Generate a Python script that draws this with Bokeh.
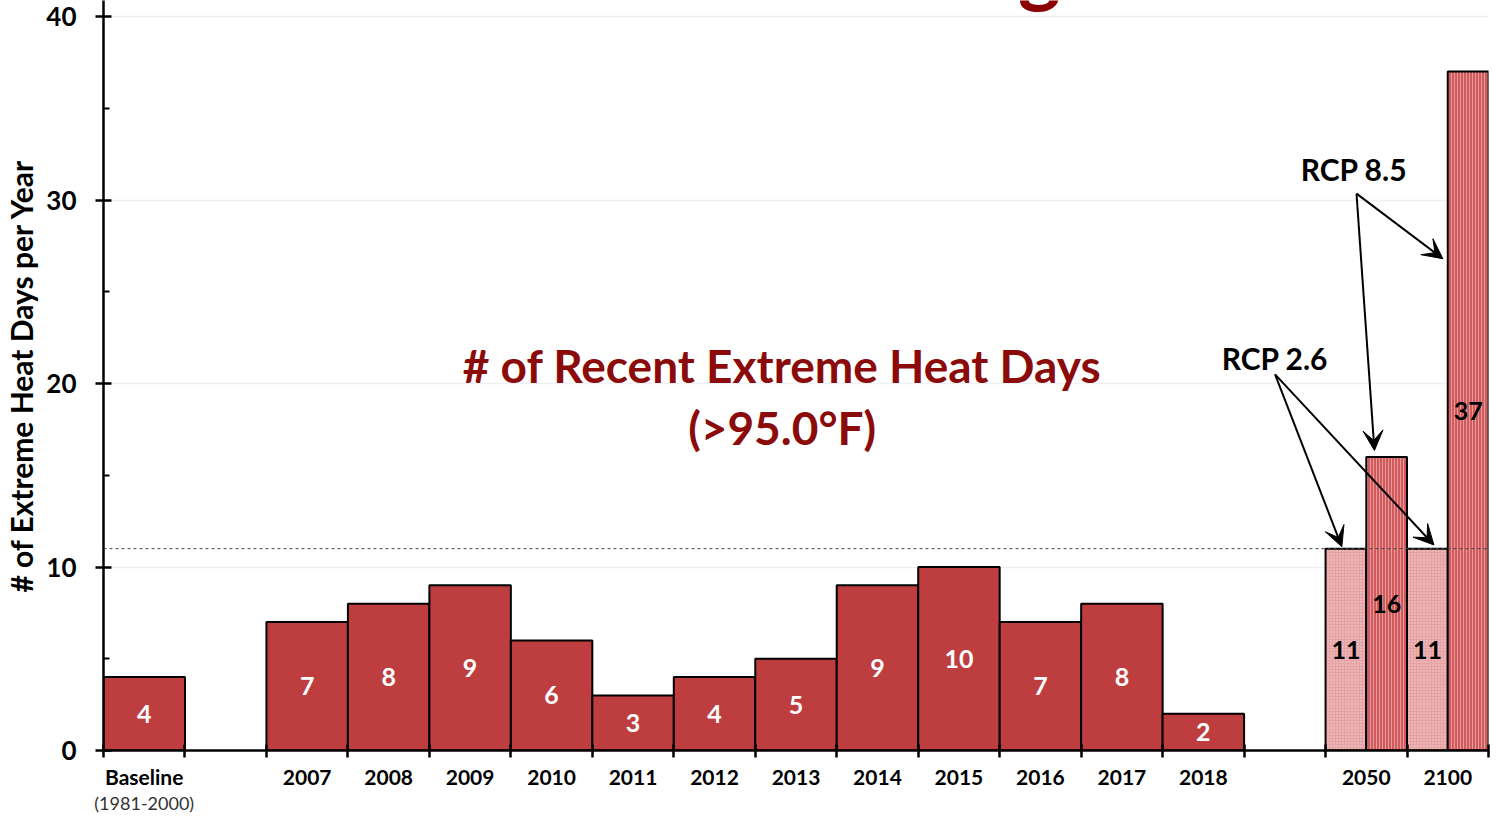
from bokeh.plotting import figure
from bokeh.models import (ColumnDataSource, Range1d, FixedTicker, Span, Arrow,
                          VeeHead, Label, LinearAxis)
from bokeh.core.properties import value
from bokeh.embed import file_html
from bokeh.resources import INLINE

# ---------------- data ----------------
hist_labels = ["Baseline", "2007", "2008", "2009", "2010", "2011", "2012",
               "2013", "2014", "2015", "2016", "2017", "2018"]
hist_values = [4, 7, 8, 9, 6, 3, 4, 5, 9, 10, 7, 8, 2]
proj_labels = ["2050", "2100"]
rcp26_values = [11, 11]
rcp85_values = [16, 37]
baseline_years = "(1981-2000)"
title_text = "Extreme Heat in Long Beach"
inset_line1 = "# of Recent Extreme Heat Days"
inset_line2 = "(>95.0°F)"
y_label = "# of Extreme Heat Days per Year"
y_ticks = [0, 10, 20, 30, 40]

# slot layout: baseline, gap, 12 years, gap, 2 projection slots
hist_slots = [0] + list(range(2, 14))
proj_slots = [15, 16]
n_slots = 17

FONT = "Lato"
DARK_RED = "#8B0A0A"

H = 820
FRAME_BOTTOM = 750           # canvas y of value 0
PX_PER_UNIT = (FRAME_BOTTOM - 16) / 40.0
Y_TOP = 40 + 16 / PX_PER_UNIT  # frame reaches the top of the canvas

p = figure(width=1491, height=H, output_backend="svg", toolbar_location=None,
           x_range=Range1d(0, n_slots), y_range=Range1d(0, Y_TOP),
           min_border_left=99, min_border_right=3, min_border_top=0,
           min_border_bottom=H - FRAME_BOTTOM)
p.outline_line_color = None
p.background_fill_color = "white"
p.border_fill_color = "white"

# historical bars
hsrc = ColumnDataSource(dict(
    x=[s + 0.5 for s in hist_slots], top=hist_values,
    ly=[v / 2 for v in hist_values], txt=[str(v) for v in hist_values]))
p.vbar(x="x", top="top", width=1.0, bottom=0, source=hsrc,
       fill_color="#BE3E40", line_color="black", line_width=2)

# projections
s26 = ColumnDataSource(dict(
    x=[s + 0.25 for s in proj_slots], top=rcp26_values,
    ly=[v / 2 for v in rcp26_values], txt=[str(v) for v in rcp26_values]))
s85 = ColumnDataSource(dict(
    x=[s + 0.75 for s in proj_slots], top=rcp85_values,
    ly=[v / 2 for v in rcp85_values], txt=[str(v) for v in rcp85_values]))
p.vbar(x="x", top="top", width=0.5, bottom=0, source=s26,
       fill_color="#E7A2A4", line_color="black", line_width=2,
       hatch_pattern="dot", hatch_color="white", hatch_alpha=0.55,
       hatch_scale=3, hatch_weight=1)
p.vbar(x="x", top="top", width=0.5, bottom=0, source=s85,
       fill_color="#D15A5D", line_color="black", line_width=2,
       hatch_pattern="vertical_line", hatch_color="#F4C4C5", hatch_alpha=0.6,
       hatch_scale=3, hatch_weight=1)

# value labels
p.text(x="x", y="ly", text="txt", source=hsrc, text_color="white",
       text_font=value(FONT), text_font_style="bold", text_font_size="25px",
       text_align="center", text_baseline="middle")
for src in (s26, s85):
    p.text(x="x", y="ly", text="txt", source=src, text_color="black",
           text_font=value(FONT), text_font_style="bold", text_font_size="25px",
           text_align="center", text_baseline="middle")

# dashed reference line at RCP 2.6 level
p.add_layout(Span(location=rcp26_values[0], dimension="width",
                  line_color="#444444", line_width=1, line_dash="3 3"))

# inset annotation
p.text(x=[8.33, 8.33], y=[21.0, 17.6], text=[inset_line1, inset_line2],
       text_color=DARK_RED, text_font=value(FONT), text_font_style="bold",
       text_font_size="46px", text_align="center", text_baseline="middle")

# RCP labels
p.text(x=[15.35, 14.38], y=[31.7, 21.4], text=["RCP 8.5", "RCP 2.6"],
       text_color="black", text_font=value(FONT), text_font_style="bold",
       text_font_size="30px", text_align="center", text_baseline="middle")

# arrows derived from bar positions / values
def arrow(x0, y0, x1, y1):
    p.add_layout(Arrow(end=VeeHead(size=20, fill_color="black", line_color="black",
                                   line_width=1),
                       x_start=x0, y_start=y0, x_end=x1, y_end=y1,
                       line_color="black", line_width=2))

o85 = (15.38, 30.35)
arrow(*o85, proj_slots[0] + 0.6, rcp85_values[0] + 0.35)
arrow(*o85, proj_slots[1] + 0.44, 26.8)
o26 = (14.38, 20.5)
arrow(*o26, proj_slots[0] + 0.2, rcp26_values[0] + 0.1)
arrow(*o26, proj_slots[1] + 0.33, rcp26_values[1] + 0.2)

# title (cut off at the top, as in the reference)
p.add_layout(Label(x=8.46, y=Y_TOP + 35 / PX_PER_UNIT, text=title_text,
                   text_color="#8B0000", text_font=FONT, text_font_style="bold",
                   text_font_size="81px", text_align="center",
                   text_baseline="alphabetic"))

# x axis
xa = p.xaxis[0]
centers = [s + 0.5 for s in hist_slots] + [s + 0.5 for s in proj_slots]
xa.ticker = FixedTicker(ticks=centers, minor_ticks=list(range(0, n_slots + 1)))
xa.major_label_overrides = {c: l for c, l in zip(centers, hist_labels + proj_labels)}
xa.major_tick_in = 0
xa.major_tick_out = 0
xa.minor_tick_in = 6
xa.minor_tick_out = 7
xa.minor_tick_line_width = 2.5
xa.minor_tick_line_color = "black"
xa.axis_line_width = 2.5
xa.axis_line_color = "black"
xa.major_label_standoff = 6
xa.major_label_text_font = FONT
xa.major_label_text_font_style = "bold"
xa.major_label_text_font_size = "21px"
xa.major_label_text_color = "black"

# second line of the baseline label
xb = LinearAxis(ticker=FixedTicker(ticks=[centers[0]]),
                major_label_overrides={centers[0]: baseline_years})
xb.axis_line_color = None
xb.major_tick_line_color = None
xb.minor_tick_line_color = None
xb.major_tick_out = 0
xb.major_tick_in = 0
xb.major_label_standoff = 0
xb.major_label_text_font = FONT
xb.major_label_text_font_size = "18px"
xb.major_label_text_color = "#333333"
p.add_layout(xb, "below")

# y axis
ya = p.yaxis[0]
ya.ticker = FixedTicker(ticks=y_ticks, minor_ticks=[5, 15, 25, 35])
ya.major_tick_in = 8
ya.major_tick_out = 8
ya.minor_tick_in = 6
ya.minor_tick_out = 0
ya.major_tick_line_width = 2.5
ya.minor_tick_line_width = 2
ya.axis_line_width = 2.5
ya.axis_line_color = "black"
ya.major_label_standoff = 19
ya.major_label_text_font = FONT
ya.major_label_text_font_style = "bold"
ya.major_label_text_font_size = "26px"
ya.major_label_text_color = "black"
ya.axis_label = y_label
ya.axis_label_text_font = FONT
ya.axis_label_text_font_style = "bold"
ya.axis_label_text_font_size = "30px"
ya.axis_label_text_color = "black"
ya.axis_label_standoff = 4

p.xgrid.visible = False
p.ygrid.ticker = FixedTicker(ticks=y_ticks)
p.ygrid.grid_line_color = "#EDF0F7"
p.ygrid.grid_line_width = 1.5

open("out.html", "w").write(file_html(p, INLINE))
